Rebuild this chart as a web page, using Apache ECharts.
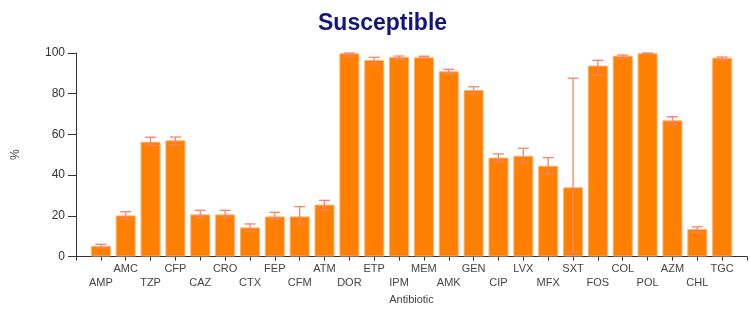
<!DOCTYPE html>
<html>
<head>
<meta charset="utf-8">
<script src="https://cdn.jsdelivr.net/npm/echarts@6/dist/echarts.min.js"></script>
<style>html,body{margin:0;padding:0;background:#fff;}#c{width:750px;height:317px;}</style>
</head>
<body>
<div id="c"></div>
<script>
const categories = ['AMP','AMC','TZP','CFP','CAZ','CRO','CTX','FEP','CFM','ATM','DOR','ETP','IPM','MEM','AMK','GEN','CIP','LVX','MFX','SXT','FOS','COL','POL','AZM','CHL','TGC'];
const values = [5.2, 20.2, 56.4, 57.1, 20.7, 20.7, 14.3, 19.7, 19.7, 25.5, 99.9, 96.6, 98.0, 97.9, 91.0, 81.8, 48.6, 49.5, 44.6, 34.0, 93.8, 98.7, 99.9, 66.9, 13.5, 97.7];
const lower = [4.4, 18.3, 54.6, 54.8, 19.1, 19.1, 12.4, 18.3, 16.0, 22.8, 98.3, 94.6, 96.9, 97.4, 89.7, 79.9, 46.6, 45.8, 40.5, 2.1, 89.0, 97.4, 99.5, 65.0, 11.9, 96.4];
const upper = [6.0, 22.0, 58.6, 58.7, 22.7, 22.7, 16.0, 21.7, 24.5, 27.6, 100, 97.9, 98.5, 98.4, 92.0, 83.4, 50.4, 53.2, 48.6, 87.6, 96.4, 99.0, 100, 68.7, 14.6, 98.0];
const yTicks = [0, 20, 40, 60, 80, 100];

const axisCats = [''].concat(categories, ['']);
const barData = [null].concat(values, [null]);
const errData = categories.map((c, i) => [i + 1, lower[i], upper[i]]);

const chart = echarts.init(document.getElementById('c'));
chart.setOption({
  animation: false,
  title: {
    text: 'Susceptible',
    left: 313, top: 7,
    textStyle: { color: '#14147f', fontSize: 23, fontWeight: 'bold', fontFamily: 'Liberation Sans, Arial, sans-serif' }
  },
  grid: { left: 76, right: -3, top: 53, bottom: 60.5, containLabel: false },
  xAxis: {
    type: 'category',
    data: axisCats,
    boundaryGap: false,
    name: 'Antibiotic',
    nameLocation: 'middle',
    nameGap: 36,
    nameTextStyle: { color: '#444', fontSize: 11, fontFamily: 'Liberation Sans, Arial, sans-serif' },
    axisLine: { lineStyle: { color: '#333', width: 1 } },
    axisTick: { show: true, length: 4, interval: 0, lineStyle: { color: '#333' } },
    axisLabel: {
      interval: 0, margin: 6, color: '#444', fontSize: 11, lineHeight: 13.5,
      fontFamily: 'Liberation Sans, Arial, sans-serif',
      formatter: function (v, idx) { return (idx % 2 === 1) ? '\n' + v : v; }
    },
    splitLine: { show: false }
  },
  yAxis: {
    type: 'value',
    min: 0, max: 100, interval: 20,
    name: '%',
    nameLocation: 'middle',
    nameGap: 54,
    nameRotate: 90,
    nameTextStyle: { color: '#444', fontSize: 12, fontFamily: 'Liberation Sans, Arial, sans-serif' },
    axisLine: { show: true, lineStyle: { color: '#333', width: 1 } },
    axisTick: { show: true, length: 8, lineStyle: { color: '#333' } },
    axisLabel: {
      margin: 11, color: '#333', fontSize: 12,
      fontFamily: 'Liberation Sans, Arial, sans-serif',
      formatter: function (v) { return yTicks.indexOf(v) >= 0 ? String(v) : ''; }
    },
    splitLine: { show: false }
  },
  series: [
    {
      type: 'bar',
      data: barData,
      barWidth: 20,
      itemStyle: { color: '#ff8000', borderColor: 'rgba(255,175,120,0.9)', borderWidth: 1 },
      z: 2
    },
    {
      type: 'custom',
      data: errData,
      z: 3,
      renderItem: function (params, api) {
        const x = api.value(0);
        const lo = api.coord([x, api.value(1)]);
        const hi = api.coord([x, api.value(2)]);
        const hw = 5.5;
        const style = { stroke: '#f5836a', lineWidth: 1.3, fill: null };
        return {
          type: 'group',
          children: [
            { type: 'line', shape: { x1: hi[0], y1: hi[1], x2: lo[0], y2: lo[1] }, style: style },
            { type: 'line', shape: { x1: hi[0] - hw, y1: hi[1], x2: hi[0] + hw, y2: hi[1] }, style: style },
            { type: 'line', shape: { x1: lo[0] - hw, y1: lo[1], x2: lo[0] + hw, y2: lo[1] }, style: style }
          ]
        };
      }
    }
  ]
});
</script>
</body>
</html>
